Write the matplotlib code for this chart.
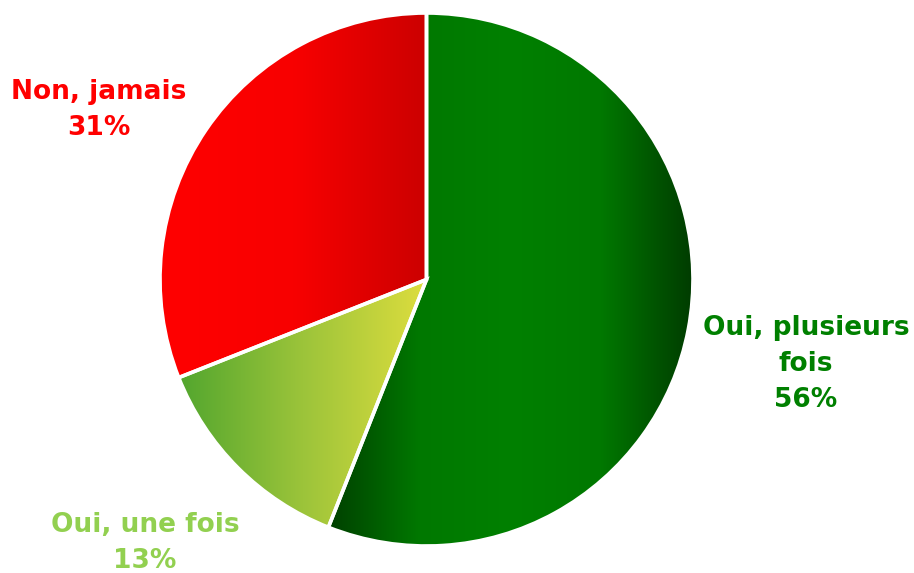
import numpy as np
import matplotlib
matplotlib.use("Agg")
import matplotlib.pyplot as plt
from matplotlib.colors import LinearSegmentedColormap

labels = ["Oui, plusieurs\nfois", "Oui, une fois", "Non, jamais"]
values = [56, 13, 31]
label_colors = ["#008000", "#92D050", "#FF0000"]
# horizontal gradient stops per slice
gradients = [
    ["#004000", "#007800", "#008000", "#007800", "#003c00"],
    ["#52A62E", "#9CC43A", "#DDDD3E"],
    ["#FF0000", "#F80000", "#CC0000"],
]
label_pos = [(806, 364), (145, 543), (99, 110)]

W, H = 914, 573
fig = plt.figure(figsize=(W / 100, H / 100), dpi=100)
ax = fig.add_axes([0, 0, 1, 1])

cx, cy, r = 426.5, H - 279.5, 266.5
wedges, _ = ax.pie(values, startangle=90, counterclock=False, center=(cx, cy),
                   radius=r, frame=True,
                   wedgeprops=dict(facecolor="none", edgecolor="white", linewidth=2.6))

# fill each slice with a horizontal gradient clipped to the wedge
for w, stops in zip(wedges, gradients):
    bb = w.get_path().get_extents(w.get_patch_transform())
    cmap = LinearSegmentedColormap.from_list("g", stops)
    grad = np.linspace(0, 1, 256).reshape(1, -1)
    im = ax.imshow(grad, cmap=cmap, aspect="auto", interpolation="bilinear",
                   extent=(bb.x0, bb.x1, bb.y0, bb.y1), zorder=1)
    im.set_clip_path(w)
    w.set_zorder(2)

ax.set_xlim(0, W)
ax.set_ylim(0, H)
ax.set_aspect("equal")
ax.axis("off")

for lab, v, c, (x, y) in zip(labels, values, label_colors, label_pos):
    ax.text(x, H - y, f"{lab}\n{v}%", ha="center", va="center", color=c,
            fontsize=19, fontweight="bold", family="DejaVu Sans", linespacing=1.5)

fig.savefig("out.png", dpi=100, facecolor="white")
